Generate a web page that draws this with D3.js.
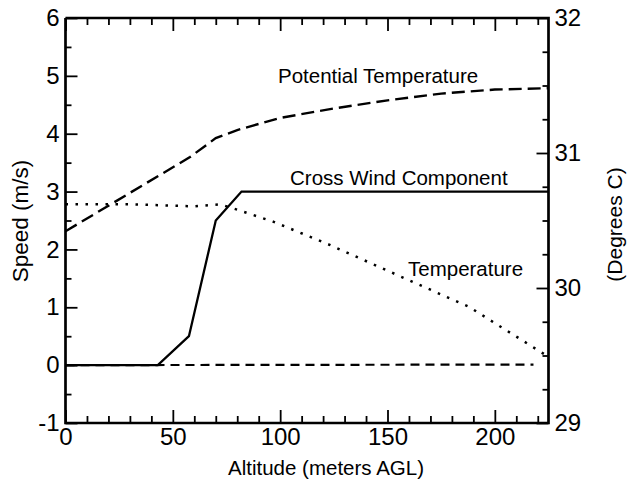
<!DOCTYPE html>
<html><head><meta charset="utf-8">
<script src="https://cdn.jsdelivr.net/npm/d3@7"></script>
<style>body{margin:0;background:#fff}svg{display:block}text{font-family:"Liberation Sans",Arial,sans-serif;fill:#000}</style>
</head><body><svg id="c" width="627" height="487"></svg>
<script>
// Data
const altCross = [0, 43, 57.5, 70, 82, 225];
const crossWind = [0, 0, 0.5, 2.5, 3.0, 3.0];
const altZero = [0, 218];
const zeroLine = [0, 0.01];
const altPot = [0, 58, 70, 80, 100, 125, 150, 175, 200, 225];
const potTemp = [30.42, 30.97, 31.11, 31.17, 31.26, 31.33, 31.39, 31.44, 31.47, 31.48];
const altTemp = [0, 30, 60, 72, 80, 97, 123, 154, 188, 223];
const temp = [30.62, 30.62, 30.605, 30.62, 30.58, 30.49, 30.32, 30.10, 29.86, 29.51];
const xTicks = d3.range(0, 226, 10);
const ySpeedTicks = d3.range(-1, 6.01, 0.5);
const yTempTicks = d3.range(29, 32.01, 0.25);

const svg = d3.select("#c");
svg.append("rect").attr("width",627).attr("height",487).attr("fill","#fff");
const L=65.5, R=548.5, T=18, B=423;
const x = d3.scaleLinear().domain([0,225]).range([L,R]);
const y = d3.scaleLinear().domain([-1,6]).range([B,T]);
const y2 = d3.scaleLinear().domain([29,32]).range([B,T]);

function styleAxis(g, isMajor, major, minor){
  g.select(".domain").remove();
  g.selectAll(".tick line").attr("stroke","#000").attr("stroke-width",1.8);
  g.selectAll(".tick").each(function(d){
    const m = isMajor(d);
    const ln = d3.select(this).select("line");
    if (ln.attr("x2")!==null && +ln.attr("x2")!==0) ln.attr("x2", m? major: minor);
    if (ln.attr("y2")!==null && +ln.attr("y2")!==0) ln.attr("y2", m? major: minor);
  });
  g.selectAll("text").attr("font-size",24).attr("fill","#000");
}
const isInt = d => Math.abs(d-Math.round(d))<1e-6;
const is50 = d => d%50===0;
const intLabel = d => isInt(d) ? String(Math.round(d)) : "";

const gB = svg.append("g").attr("transform",`translate(0,${B})`)
  .call(d3.axisBottom(x).tickValues(xTicks).tickSize(-7).tickSizeOuter(0).tickPadding(5).tickFormat(d=>is50(d)?String(d):""));
styleAxis(gB, is50, -13, -7);
const gT = svg.append("g").attr("transform",`translate(0,${T})`)
  .call(d3.axisTop(x).tickValues(xTicks).tickSize(-7).tickSizeOuter(0).tickFormat(""));
styleAxis(gT, is50, 13, 7);
const gL = svg.append("g").attr("transform",`translate(${L},0)`)
  .call(d3.axisLeft(y).tickValues(ySpeedTicks).tickSize(-6).tickSizeOuter(0).tickPadding(6).tickFormat(intLabel));
styleAxis(gL, isInt, 12, 6);
const gR = svg.append("g").attr("transform",`translate(${R},0)`)
  .call(d3.axisRight(y2).tickValues(yTempTicks).tickSize(-6).tickSizeOuter(0).tickPadding(6).tickFormat(intLabel));
styleAxis(gR, isInt, -12, -6);

// frame
svg.append("path").attr("d",`M${L},${T}V${B}H${R}V${T}H${L}`).attr("fill","none").attr("stroke","#000").attr("stroke-width",2.7);

svg.append("clipPath").attr("id","pc").append("rect").attr("x",L).attr("y",T).attr("width",R-L).attr("height",B-T);
function drawLine(xs, ys, sc, dash, w){
  const pts = xs.map((a,i)=>[a, ys[i]]);
  svg.append("path").datum(pts)
    .attr("d", d3.line().x(d=>x(d[0])).y(d=>sc(d[1])))
    .attr("fill","none").attr("stroke","#000").attr("stroke-width",w)
    .attr("stroke-dasharray",dash).attr("clip-path","url(#pc)");
}
drawLine(altZero, zeroLine, y, "9,6", 2.2);
drawLine(altTemp, temp, y2, "2.5,7.5", 2.5);
drawLine(altPot, potTemp, y2, "13,6", 2.4);
drawLine(altCross, crossWind, y, null, 2.3);

// annotations
const ann = [["Potential Temperature",278,83],["Cross Wind Component",290,185],["Temperature",408,276]];
ann.forEach(a=>svg.append("text").attr("x",a[1]).attr("y",a[2]).attr("font-size",20.5).text(a[0]));

// axis titles
svg.append("text").attr("x",326).attr("y",475).attr("text-anchor","middle").attr("font-size",20.5).text("Altitude (meters AGL)");
svg.append("text").attr("transform",`translate(28,221) rotate(-90)`).attr("text-anchor","middle").attr("font-size",22.5).text("Speed (m/s)");
svg.append("text").attr("transform",`translate(606,${(T+B)/2+4}) rotate(-90)`).attr("text-anchor","middle").attr("dy","0.75em").attr("font-size",21).text("(Degrees C)");
</script></body></html>
